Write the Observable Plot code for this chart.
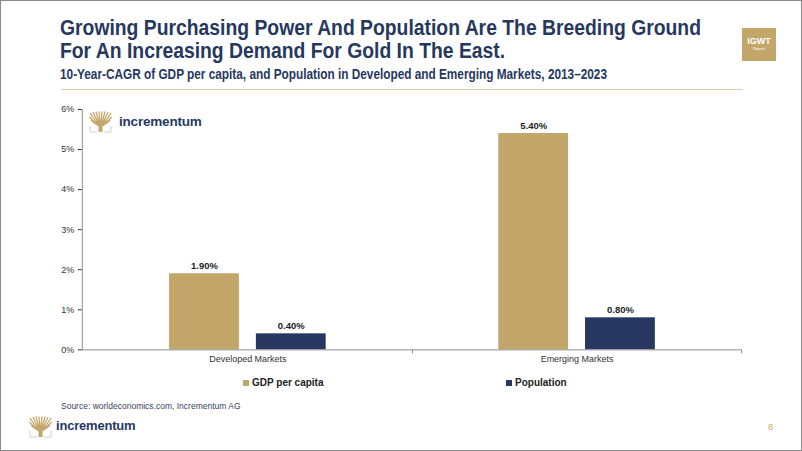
<!DOCTYPE html>
<html><head><meta charset="utf-8">
<script src="https://cdn.jsdelivr.net/npm/d3@7"></script>
<script src="https://cdn.jsdelivr.net/npm/@observablehq/plot@0.6"></script>
<style>
html,body{margin:0;padding:0;background:#fff;}
#page{position:relative;width:802px;height:451px;box-sizing:border-box;border:1px solid #8a8a8a;overflow:hidden;font-family:"Liberation Sans",Arial,sans-serif;}
.abs{position:absolute;white-space:nowrap;}
#title{left:59px;top:15px;font-family:"Liberation Sans",Arial,sans-serif;font-weight:bold;font-size:22px;color:#27385e;transform-origin:left top;}
#title div{height:23px;line-height:23px;}
#title span{display:inline-block;line-height:23px;}
#subtitle{left:59px;top:65px;font-family:"Liberation Sans",Arial,sans-serif;font-weight:bold;font-size:14px;color:#27385e;transform-origin:left top;}
#rule{left:60px;top:88px;width:682px;height:1px;background:#d8ccab;}
#igwt{left:741px;top:27px;width:34px;height:33px;background:#c3a76a;color:#fff;text-align:center;}
#igwt .a{font-weight:bold;font-size:9px;margin-top:9px;line-height:9px;}
#igwt .b{font-size:4px;line-height:6px;}
.logotext{font-weight:bold;color:#27385e;letter-spacing:-0.2px;}
#chart{left:0;top:95px;}
.leg{font-weight:bold;font-size:10px;color:#222;display:flex;align-items:center;}
.sw{display:inline-block;width:6px;height:6px;margin-right:3px;}
#source{left:60px;top:400px;font-size:8.5px;color:#3a4460;}
#pnum{left:767px;top:421px;font-size:9px;color:#c3a76a;}
</style></head>
<body><div id="page">
<div id="title" class="abs"><div><span id="t1">Growing Purchasing Power And Population Are The Breeding Ground</span></div><div><span>For An Increasing Demand For Gold In The East.</span></div></div>
<div id="subtitle" class="abs">10-Year-CAGR of GDP per capita, and Population in Developed and Emerging Markets, 2013–2023</div>
<div id="rule" class="abs"></div>
<div id="igwt" class="abs"><div class="a">IGWT</div><div class="b">Report</div></div>
<div id="chart" class="abs"></div>
<div id="logo1" class="abs" style="left:88px;top:110px;"></div>
<div class="abs logotext" style="left:118px;top:113px;font-size:13.5px;">incrementum</div>
<div id="source" class="abs">Source: worldeconomics.com, Incrementum AG</div>
<div id="logo2" class="abs" style="left:28px;top:415px;"></div>
<div class="abs logotext" style="left:55px;top:417px;font-size:13px;">incrementum</div>
<div id="pnum" class="abs">8</div>
</div>
<script>
const categories = ["Developed Markets", "Emerging Markets"];
const seriesNames = ["GDP per capita", "Population"];
const gdpPerCapita = [1.90, 5.40];
const population = [0.40, 0.80];
const yTicks = [0, 1, 2, 3, 4, 5, 6];
const colors = ["#c3a76a", "#27375f"];

const gdpRows = categories.map((c, i) => ({category: c, series: seriesNames[0], value: gdpPerCapita[i]}));
const popRows = categories.map((c, i) => ({category: c, series: seriesNames[1], value: population[i]}));

const fmt = v => v.toFixed(2) + "%";
const chart = Plot.plot({
  width: 802, height: 280,
  marginLeft: 81, marginRight: 60, marginTop: 13, marginBottom: 26,
  style: {fontFamily: "'Liberation Sans', Arial, sans-serif", fontSize: "9px", color: "#333", background: "transparent"},
  x: {domain: categories, padding: 0, label: null, tickSize: 0, tickPadding: 6},
  y: {domain: [0, 6], ticks: yTicks, tickFormat: d => d + "%", label: null, tickSize: 4, tickPadding: 4},
  color: {domain: seriesNames, range: colors},
  marks: [
    Plot.barY(gdpRows, {x: "category", y: "value", fill: "series", insetLeft: 130, insetRight: 130, dx: -43.5}),
    Plot.barY(popRows, {x: "category", y: "value", fill: "series", insetLeft: 130, insetRight: 130, dx: 43.5}),
    Plot.text(gdpRows, {x: "category", y: "value", text: d => fmt(d.value), dx: -43.5, dy: -5, lineAnchor: "bottom", fontWeight: "bold", fontSize: 9.5, fill: "#222"}),
    Plot.text(popRows, {x: "category", y: "value", text: d => fmt(d.value), dx: 43.5, dy: -5, lineAnchor: "bottom", fontWeight: "bold", fontSize: 9.5, fill: "#222"}),
    Plot.frame({anchor: "left", stroke: "#8f8f8f"}),
    Plot.ruleY([0], {stroke: "#8f8f8f"}),
    // category boundary ticks at the right edge of each band
    Plot.ruleX(categories, {x: d => d, dx: 165, insetTop: 241, insetBottom: -4, stroke: "#8f8f8f"})
  ]
});
document.getElementById("chart").appendChild(chart);

// legend
const legendLeft = [242, 505];
seriesNames.forEach((s, i) => {
  const d = document.createElement("div");
  d.className = "abs leg";
  d.style.left = legendLeft[i] + "px";
  d.style.top = "376px";
  d.innerHTML = `<span class="sw" style="background:${colors[i]}"></span>${s}`;
  document.getElementById("page").appendChild(d);
});

// fit condensed headline widths
function fitX(el, measureEl, target) {
  const w = measureEl.getBoundingClientRect().width;
  if (w > 0) el.style.transform = `scaleX(${target / w})`;
}
fitX(document.getElementById("title"), document.getElementById("t1"), 641);
const sub = document.getElementById("subtitle");
fitX(sub, sub, 547);

// simple tree logo icon
function treeIcon() {
  const ns = "http://www.w3.org/2000/svg";
  const svg = document.createElementNS(ns, "svg");
  svg.setAttribute("width", 23); svg.setAttribute("height", 22);
  let p = "";
  const cx = 11.5;
  const tips = [[1,2],[4,1],[7,0.5],[10,0.5],[13,0.5],[16,0.5],[19,1],[22,2],[0.5,6],[22.5,6],[2,9],[21,9]];
  tips.forEach(([x,y]) => { p += `M${cx},15 Q${(cx+x)/2},${(15+y)/2+2} ${x},${y} `; });
  svg.innerHTML = `<path d="${p}" stroke="#c3a76a" stroke-width="1.3" fill="none"/>
    <rect x="9.5" y="11" width="4" height="10" fill="#c3a76a"/>
    <path d="M1,15 V21 H8 M22,15 V21 H15" stroke="#cfcfcf" stroke-width="1" fill="none"/>`;
  return svg;
}
document.getElementById("logo1").appendChild(treeIcon());
document.getElementById("logo2").appendChild(treeIcon());
</script>
</body></html>
